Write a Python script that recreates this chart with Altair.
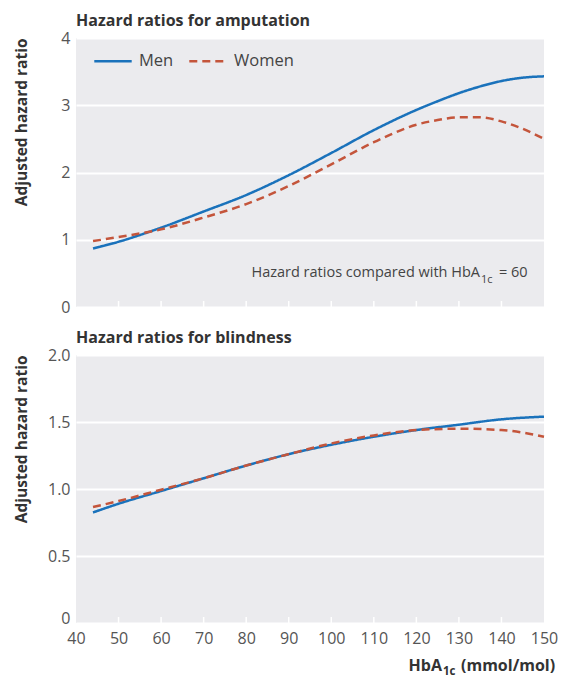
import altair as alt
import pandas as pd

# ---- data ----
amp_x = [44, 50, 60, 70, 80, 90, 100, 110, 120, 125, 130, 135, 140, 145, 150]
amp_men = [0.87, 0.97, 1.18, 1.42, 1.665, 1.96, 2.29, 2.63, 2.93, 3.06, 3.18, 3.28, 3.36, 3.41, 3.43]
amp_women = [0.98, 1.04, 1.155, 1.33, 1.53, 1.80, 2.12, 2.45, 2.71, 2.78, 2.82, 2.82, 2.76, 2.65, 2.50]
blind_x = [44, 50, 60, 70, 80, 90, 100, 110, 120, 130, 140, 150]
blind_men = [0.825, 0.89, 0.985, 1.08, 1.175, 1.26, 1.33, 1.39, 1.44, 1.48, 1.52, 1.54]
blind_women = [0.865, 0.91, 0.995, 1.08, 1.175, 1.26, 1.34, 1.40, 1.44, 1.45, 1.44, 1.39]
x_ticks = [40, 50, 60, 70, 80, 90, 100, 110, 120, 130, 140, 150]
inner_ticks = [50, 60, 70, 80, 90, 100, 110, 120, 130, 140]
amp_y_ticks = [0, 1, 2, 3, 4]
blind_y_ticks = [0, 0.5, 1.0, 1.5, 2.0]
groups = ["Men", "Women"]
colors = ["#1a72bb", "#c4553b"]

FONT = "Open Sans"
W = 468
H1 = 269
H2 = 268
BG = "#ebebee"


def long_df(xs, men, women):
    rows = []
    for x, m in zip(xs, men):
        rows.append({"hba1c": x, "hr": m, "sex": "Men"})
    for x, w in zip(xs, women):
        rows.append({"hba1c": x, "hr": w, "sex": "Women"})
    return pd.DataFrame(rows)


amp_df = long_df(amp_x, amp_men, amp_women)
blind_df = long_df(blind_x, blind_men, blind_women)
tick_df = pd.DataFrame({"hba1c": inner_ticks})

xscale = alt.Scale(domain=[40, 150], nice=False, zero=False)


def lines(df, ydomain, yvalues, show_legend, xaxis, label_expr=None, lift_zero=False):
    yaxis_kwargs = dict(
        values=yvalues,
        title="Adjusted hazard ratio",
        titleX=-55,
        titleY=0,
        titleAngle=-90,
        titleAlign="right",
        titleBaseline="middle",
        labelPadding=6,
    )
    if label_expr:
        yaxis_kwargs["labelExpr"] = label_expr
    if lift_zero:
        yaxis_kwargs["labelBaseline"] = {
            "condition": {"test": "datum.value == 0", "value": "alphabetic"},
            "value": "middle",
        }
    if show_legend:
        legend = alt.Legend(
            title=None,
            orient="none",
            legendX=17,
            legendY=3,
            direction="horizontal",
            symbolType="stroke",
            symbolSize=1400,
            symbolStrokeWidth=2.5,
            labelFontSize=16.5,
            labelFont=FONT,
            labelColor="#444",
            columnPadding=10,
            labelOffset=6,
            padding=0,
        )
    else:
        legend = None
    return alt.Chart(df).mark_line(strokeWidth=2.5, interpolate="monotone").encode(
        x=alt.X("hba1c:Q", scale=xscale, axis=xaxis),
        y=alt.Y("hr:Q", scale=alt.Scale(domain=ydomain, nice=False), axis=alt.Axis(**yaxis_kwargs)),
        color=alt.Color("sex:N", scale=alt.Scale(domain=groups, range=colors), legend=legend),
        strokeDash=alt.StrokeDash(
            "sex:N", scale=alt.Scale(domain=groups, range=[[1, 0], [8, 5]]), legend=legend
        ),
    )


def inner_tick_layer(h):
    return alt.Chart(tick_df).mark_rule(color="white", strokeWidth=1.5).encode(
        x=alt.X("hba1c:Q", scale=xscale),
        y=alt.value(h),
        y2=alt.value(h - 6),
    )


def txt(t, x, y, size, align, weight="normal", color="#444"):
    return alt.Chart(pd.DataFrame({"t": [t]})).mark_text(
        align=align, baseline="alphabetic", fontSize=size, font=FONT,
        fontWeight=weight, color=color,
    ).encode(text="t:N", x=alt.value(x), y=alt.value(y))


# ---- top panel ----
top_lines = lines(amp_df, [0, 4], amp_y_ticks, True, None)
top_note = alt.layer(
    txt("Hazard ratios compared with HbA", 404, 239, 14.5, "right"),
    txt("1c", 405, 245, 11, "left"),
    txt("= 60", 423, 239, 14.5, "left"),
)
top = alt.layer(top_lines, inner_tick_layer(H1), top_note).properties(
    width=W, height=H1,
    title=alt.TitleParams("Hazard ratios for amputation", frame="group"),
).resolve_scale(color="independent", strokeDash="independent")

# ---- bottom panel ----
bottom_xaxis = alt.Axis(values=x_ticks, title=None, labelPadding=7, ticks=False, grid=False,
                        labelFlush=False)
bottom_lines = lines(
    blind_df, [0, 2], blind_y_ticks, False, bottom_xaxis,
    label_expr="datum.value == 0 ? '0' : format(datum.value, '.1f')",
    lift_zero=True,
)
xtitle = alt.layer(
    txt("HbA", 366, 316, 16, "right", "bold", "#333"),
    txt("1c", 367, 320, 11.5, "left", "bold", "#333"),
    txt("(mmol/mol)", 385, 316, 16, "left", "bold", "#333"),
)
bottom = alt.layer(bottom_lines, inner_tick_layer(H2), xtitle).properties(
    width=W, height=H2,
    title=alt.TitleParams("Hazard ratios for blindness", frame="group"),
)

chart = alt.vconcat(top, bottom, spacing=15).resolve_scale(
    color="independent", strokeDash="independent"
).resolve_legend(color="independent", strokeDash="independent").configure_view(
    fill=BG, stroke=None
).configure_axis(
    labelFont=FONT, labelFontSize=16, labelColor="#555",
    titleFont=FONT, titleFontSize=15.5, titleFontWeight="bold", titleColor="#333",
    grid=True, gridColor="white", gridWidth=2, domain=False, ticks=False,
).configure_axisX(grid=False).configure_title(
    font=FONT, fontSize=16, fontWeight="bold", color="#333", anchor="start", offset=1,
)

chart.save("out.html", embed_options={"renderer": "svg", "actions": False})
